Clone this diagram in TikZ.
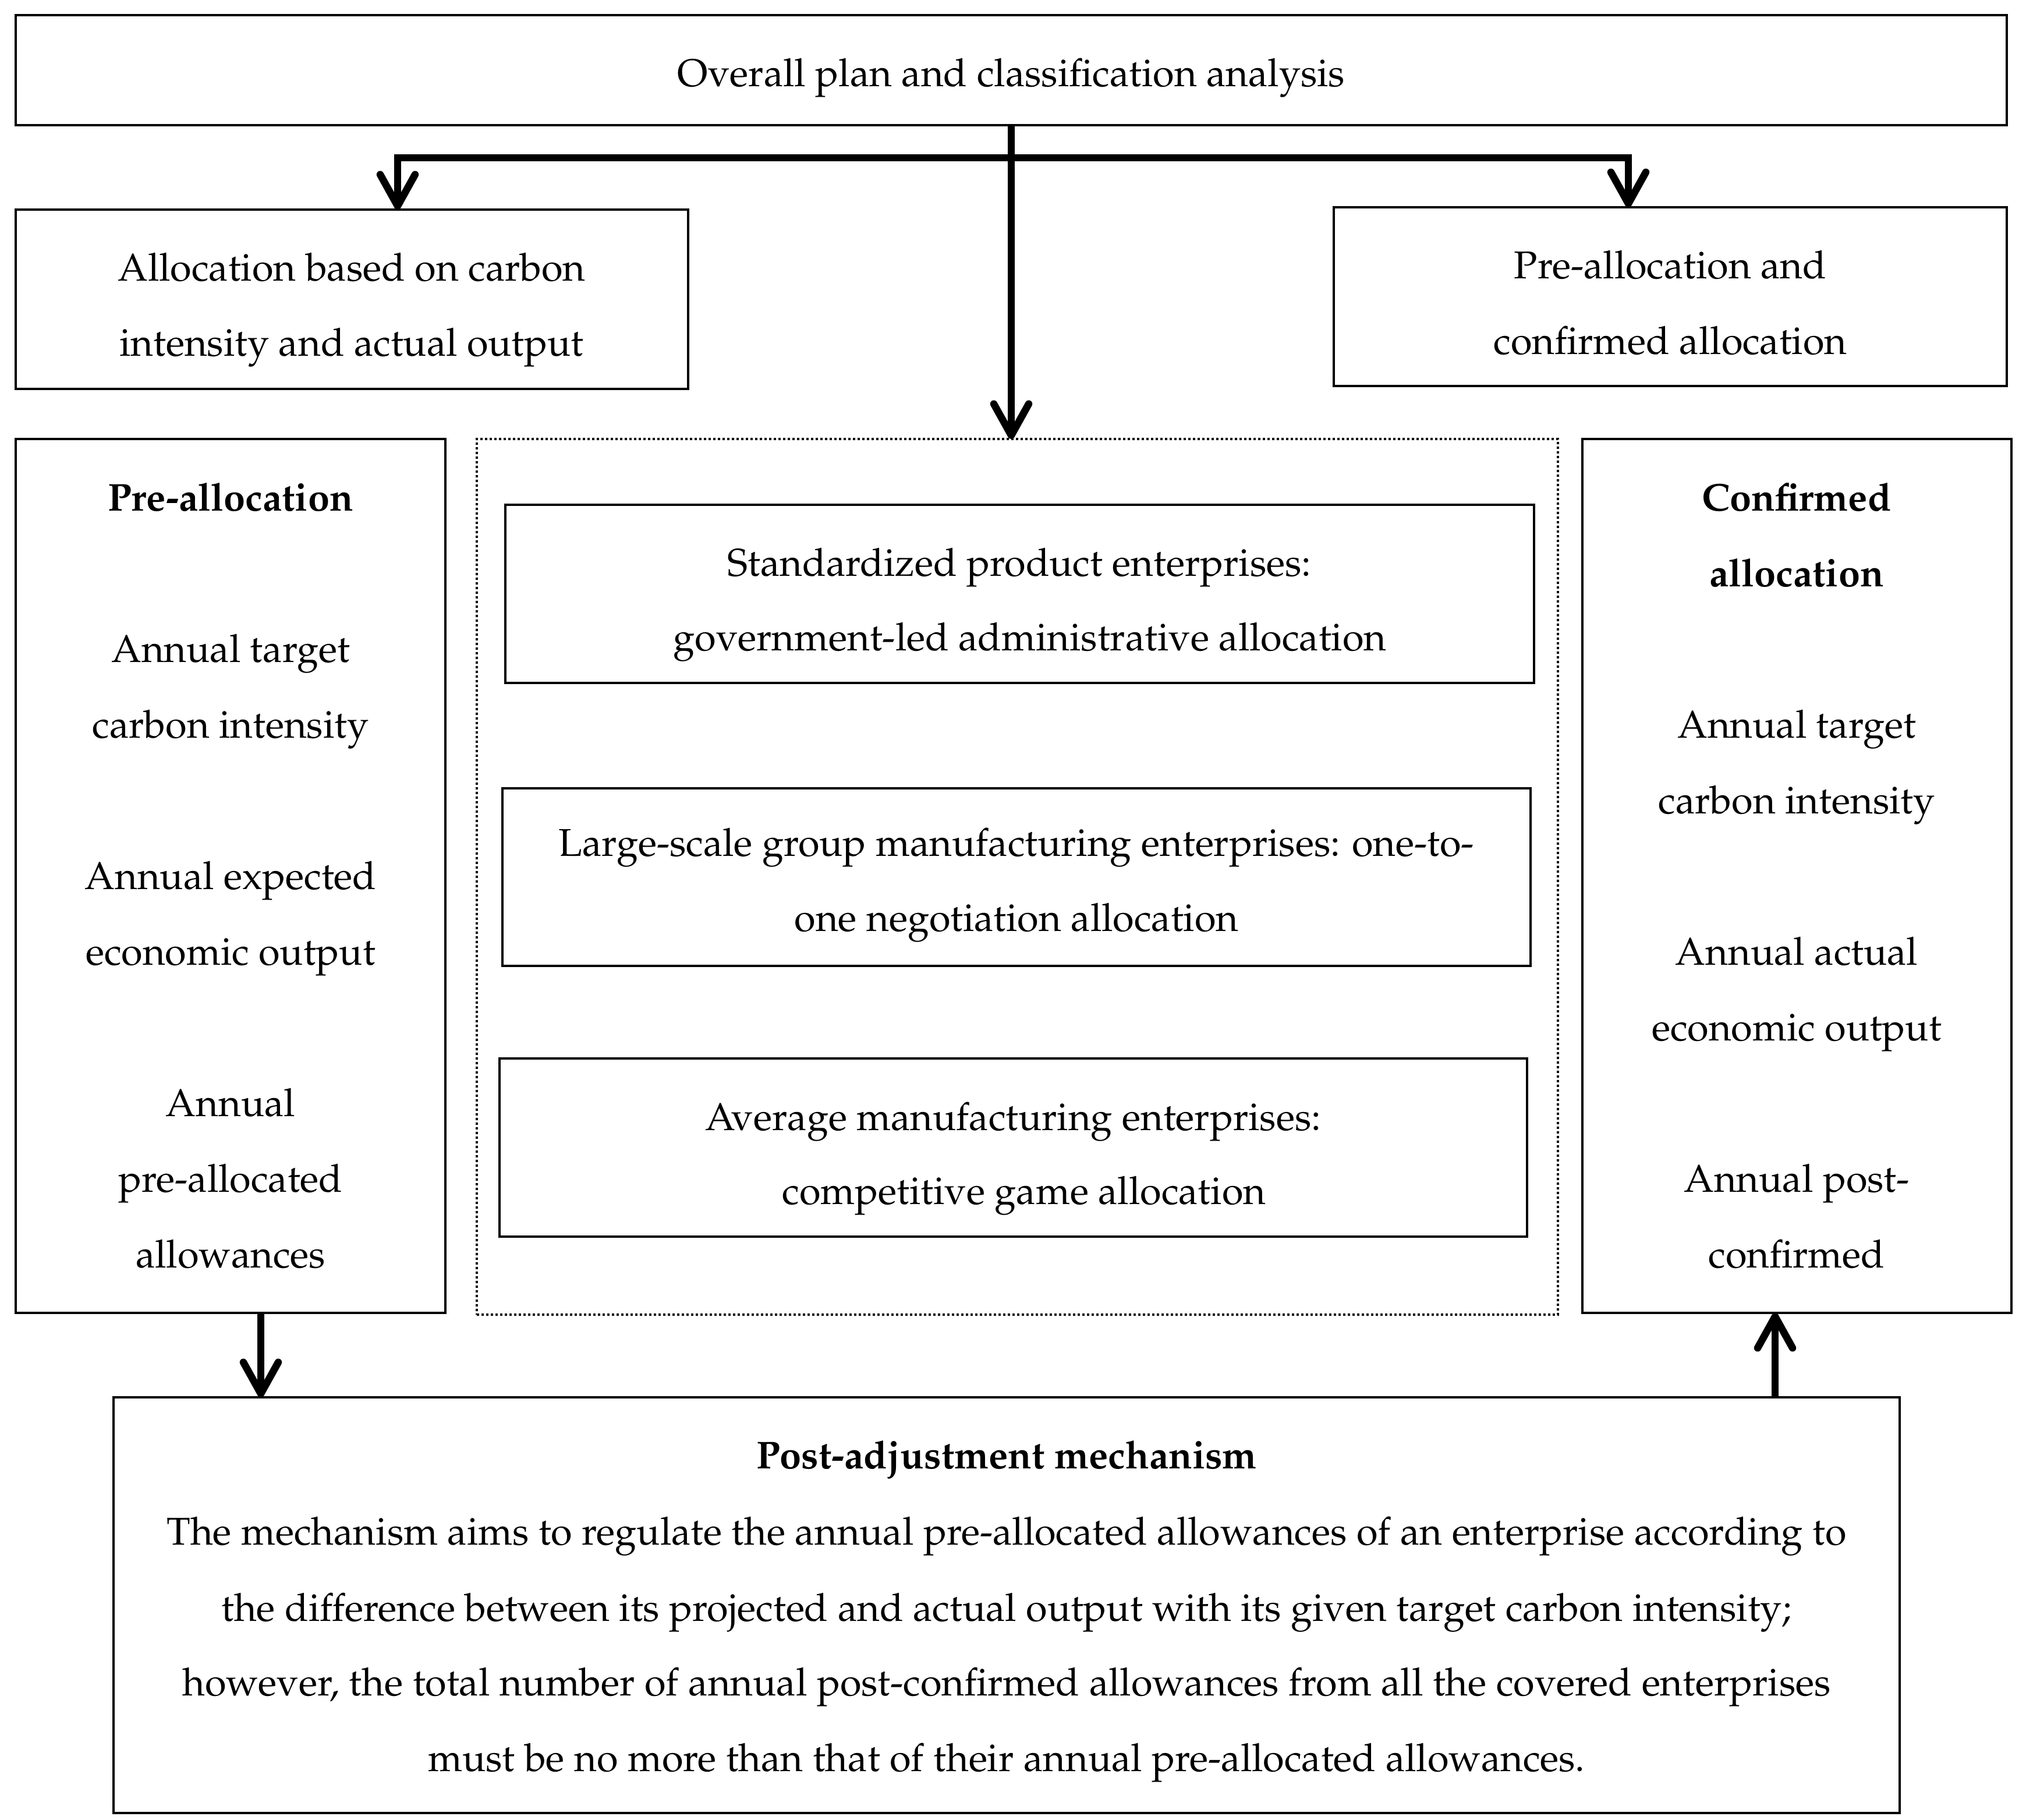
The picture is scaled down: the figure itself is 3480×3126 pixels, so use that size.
\documentclass[tikz,border=0pt]{standalone}
\usepackage[T1]{fontenc}
\renewcommand{\rmdefault}{ppl}
\usetikzlibrary{arrows.meta}
\newcommand\mybox[6]{\node[#6, minimum width={(#4-#2)*0.1mm}, minimum height={(#5-#3)*0.1mm}] (#1) at ({(#2+#4)/2},{(#3+#5)/2}) {};}
\begin{document}
\begin{tikzpicture}[x=0.1mm,y=-0.1mm,
  box/.style={draw, line width=0.45mm, inner sep=0pt, outer sep=0pt, rectangle},
  dotbox/.style={draw, line width=0.4mm, dash pattern=on 0.4mm off 0.4mm, inner sep=0pt, outer sep=0pt, rectangle},
  txt/.style={anchor=base, inner sep=0pt, font=\fontsize{18.95pt}{23pt}\selectfont},
  btxt/.style={txt, font=\fontsize{18.95pt}{23pt}\selectfont\bfseries},
  arr/.style={line width=1.25mm, -{Straight Barb[length=5.4mm,width=6mm,round]}}
]
\useasboundingbox (0,0) rectangle (3480,3126);
% boxes
\mybox{top}{27}{26}{3447}{215}{box}
\mybox{b2l}{27}{360}{1182}{668}{box}
\mybox{b2r}{2291}{356}{3447}{663}{box}
\mybox{lcol}{27}{754}{765}{2255}{box}
\mybox{mid}{819}{754}{2676}{2258}{dotbox}
\mybox{rcol}{2718}{754}{3455}{2255}{box}
\mybox{in1}{868}{867}{2635}{1173}{box}
\mybox{in2}{863}{1354}{2629}{1659}{box}
\mybox{in3}{858}{1818}{2623}{2124}{box}
\mybox{bot}{195}{2400}{3263}{3114}{box}
% texts
\node[txt] (ttop) at (1737,148) {Overall plan and classification analysis};
\node[txt] (tl1) at (604,482) {Allocation based on carbon};
\node[txt] (tl2) at (604,611) {intensity and actual output};
\node[txt] (tr1) at (2869,478) {Pre-allocation and};
\node[txt] (tr2) at (2869,608) {confirmed allocation};
\node[txt] (ta1) at (1751,989) {Standardized product enterprises:};
\node[txt] (ta2) at (1769,1117) {government-led administrative allocation};
\node[txt] (tb1) at (1746,1470) {Large-scale group manufacturing enterprises: one-to-};
\node[txt] (tb2) at (1746,1599) {one negotiation allocation};
\node[txt] (tc1) at (1740,1941) {Average manufacturing enterprises:};
\node[txt] (tc2) at (1759,2068) {competitive game allocation};
\node[btxt] (lc0) at (396,877) {Pre-allocation};
\node[txt] (lc1) at (396,1137) {Annual target};
\node[txt] (lc2) at (396,1267) {carbon intensity};
\node[txt] (lc3) at (396,1527) {Annual expected};
\node[txt] (lc4) at (396,1657) {economic output};
\node[txt] (lc5) at (396,1917) {Annual};
\node[txt] (lc6) at (396,2047) {pre-allocated};
\node[txt] (lc7) at (396,2177) {allowances};
\node[btxt] (rc0) at (3086,877) {Confirmed};
\node[btxt] (rc0b) at (3086,1007) {allocation};
\node[txt] (rc1) at (3086,1267) {Annual target};
\node[txt] (rc2) at (3086,1397) {carbon intensity};
\node[txt] (rc3) at (3086,1657) {Annual actual};
\node[txt] (rc4) at (3086,1787) {economic output};
\node[txt] (rc5) at (3086,2047) {Annual post-};
\node[txt] (rc6) at (3086,2177) {confirmed};
\node[btxt] (bt0) at (1729,2522) {Post-adjustment mechanism};
\node[txt] (bt1) at (1729,2653) {The mechanism aims to regulate the annual pre-allocated allowances of an enterprise according to};
\node[txt] (bt2) at (1729,2784) {the difference between its projected and actual output with its given target carbon intensity;};
\node[txt] (bt3) at (1729,2912) {however, the total number of annual post-confirmed allowances from all the covered enterprises};
\node[txt] (bt4) at (1729,3042) {must be no more than that of their annual pre-allocated allowances.};
% connectors
\coordinate (j) at (1737,271);
\coordinate (aL) at (683,271);
\coordinate (aR) at (2797,271);
\coordinate (aD) at (448,2255);
\coordinate (aU) at (3049,2400);
\draw[arr] (top.south) -- (top.south |- mid.north);
\draw[arr] (j) -- (aL) -- (aL |- b2l.north);
\draw[arr] (j) -- (aR) -- (aR |- b2r.north);
\draw[arr] (aD) -- (aD |- bot.north);
\draw[arr] (aU) -- (aU |- rcol.south);
\end{tikzpicture}
\end{document}
